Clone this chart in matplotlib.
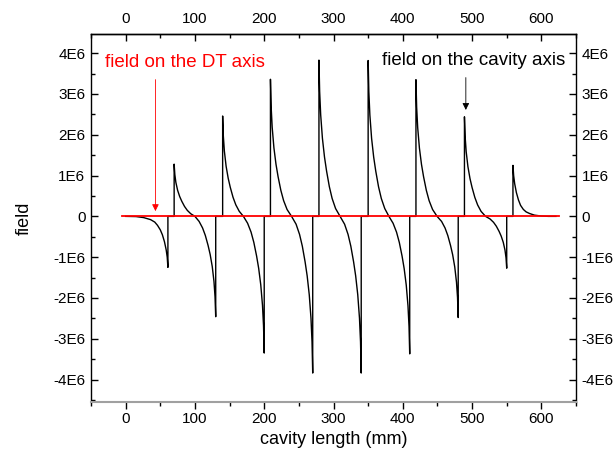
import matplotlib
matplotlib.use("Agg")
import matplotlib.pyplot as plt
from matplotlib.ticker import MultipleLocator, FuncFormatter

plt.rcParams['font.family'] = ['Liberation Sans', 'DejaVu Sans']

# ---- data (x in mm, field in units of 1E6) ----
start_x = [0, 15, 26, 36, 42, 46, 50, 53, 56, 58.5, 60, 61]
start_y = [0, -0.005, -0.03, -0.08, -0.14, -0.22, -0.33, -0.45, -0.62, -0.82, -1.0, -1.25]

cell1_x = [61, 70, 70, 71, 72.5, 75, 78, 81, 85, 89, 94, 100, 106, 111, 115, 119, 122, 125, 127.5, 129, 130]
cell1_y = [0, 0, 1.28, 1.024, 0.832, 0.64, 0.486, 0.371, 0.243, 0.147, 0.064, 0,
           -0.123, -0.283, -0.467, -0.713, -0.935, -1.23, -1.599, -1.968, -2.46]

cell2_x = [130, 140, 140, 141, 142.5, 145, 148, 151, 155, 159, 164, 170, 176, 181, 185, 189, 192, 195, 197.5, 199, 200]
cell2_y = [0, 0, 2.46, 1.968, 1.599, 1.23, 0.935, 0.713, 0.467, 0.283, 0.123, 0,
           -0.168, -0.385, -0.637, -0.972, -1.273, -1.675, -2.178, -2.68, -3.35]

cell3_x = [200, 209, 209, 210, 211.5, 214, 217, 220, 224, 228, 233, 239.5, 246, 251, 255, 259, 262, 265, 267.5, 269, 270]
cell3_y = [0, 0, 3.36, 2.688, 2.184, 1.68, 1.277, 0.974, 0.638, 0.386, 0.168, 0,
           -0.192, -0.442, -0.73, -1.114, -1.459, -1.92, -2.496, -3.072, -3.84]

cell4_x = [270, 279, 279, 280, 281.5, 284, 287, 290, 294, 298, 303, 309.5, 316, 321, 325, 329, 332, 335, 337.5, 339, 340]
cell4_y = [0, 0, 3.83, 3.064, 2.49, 1.915, 1.455, 1.111, 0.728, 0.44, 0.192, 0,
           -0.192, -0.442, -0.73, -1.114, -1.459, -1.92, -2.496, -3.072, -3.84]

cell5_x = [340, 350, 350, 351, 352.5, 355, 358, 361, 365, 369, 374, 380, 386, 391, 395, 399, 402, 405, 407.5, 409, 410]
cell5_y = [0, 0, 3.82, 3.056, 2.483, 1.91, 1.452, 1.108, 0.726, 0.439, 0.191, 0,
           -0.169, -0.388, -0.64, -0.977, -1.281, -1.685, -2.191, -2.696, -3.37]

cell6_x = [410, 419, 419, 420, 421.5, 424, 427, 430, 434, 438, 443, 449.5, 456, 461, 465, 469, 472, 475, 477.5, 479, 480]
cell6_y = [0, 0, 3.35, 2.68, 2.178, 1.675, 1.273, 0.972, 0.637, 0.385, 0.168, 0,
           -0.124, -0.285, -0.471, -0.719, -0.942, -1.24, -1.612, -1.984, -2.48]

cell7_x = [480, 489, 489, 490, 491.5, 494, 497, 500, 504, 508, 513, 519.5, 526, 531, 535, 539, 542, 545, 547.5, 549, 550]
cell7_y = [0, 0, 2.44, 1.952, 1.586, 1.22, 0.927, 0.708, 0.464, 0.281, 0.122, 0,
           -0.064, -0.146, -0.241, -0.368, -0.483, -0.635, -0.826, -1.016, -1.27]

end_x = [550, 559, 559, 560, 561.5, 564, 567, 570, 574, 578, 583, 590, 600, 610, 621]
end_y = [0, 0, 1.25, 1.0, 0.8, 0.58, 0.4, 0.27, 0.17, 0.11, 0.07, 0.03, 0.008, 0, 0]

dt_x = [-5, 625]
dt_y = [0, 0]

xticks = [0, 100, 200, 300, 400, 500, 600]
yticks = [-4, -3, -2, -1, 0, 1, 2, 3, 4]

segments_x = [start_x, cell1_x, cell2_x, cell3_x, cell4_x, cell5_x, cell6_x, cell7_x, end_x]
segments_y = [start_y, cell1_y, cell2_y, cell3_y, cell4_y, cell5_y, cell6_y, cell7_y, end_y]
cav_x = [v for s in segments_x for v in s]
cav_y = [v * 1e6 for s in segments_y for v in s]

# ---- figure ----
fig = plt.figure(figsize=(6.16, 4.58), dpi=100)
ax = fig.add_axes([91/616, 1-402/458, (576-91)/616, (402-34)/458])

ax.plot(cav_x, cav_y, color='black', lw=1.0, zorder=2)
ax.plot(dt_x, [v * 1e6 for v in dt_y], color='#ff0000', lw=1.3, zorder=3)

ax.set_xlim(-50, 650)
ax.set_ylim(-4.55e6, 4.47e6)

def fmt(v, pos):
    if abs(v) < 1:
        return '0'
    return '%dE6' % round(v / 1e6)

ax.set_yticks([t * 1e6 for t in yticks])
ax.yaxis.set_major_formatter(FuncFormatter(fmt))
ax.yaxis.set_minor_locator(MultipleLocator(0.5e6))
ax.set_xticks(xticks)
ax.xaxis.set_minor_locator(MultipleLocator(50))

ax.tick_params(axis='x', which='major', direction='out', length=5, width=1, labelsize=11, pad=2)
ax.tick_params(axis='x', which='minor', direction='out', length=3, width=1)
ax.tick_params(axis='y', which='major', direction='in', length=5, width=1, labelsize=11,
               left=True, right=True, labelleft=True, labelright=True, pad=4)
ax.tick_params(axis='y', which='minor', direction='in', length=3, width=1, left=True, right=True)

top = ax.secondary_xaxis('top')
top.set_xticks(xticks)
top.xaxis.set_minor_locator(MultipleLocator(50))
top.tick_params(axis='x', which='major', direction='in', length=5, width=1, labelsize=11, pad=6)
top.tick_params(axis='x', which='minor', direction='in', length=3, width=1)

for s in ['left', 'right', 'top']:
    ax.spines[s].set_linewidth(1.0)
top.spines['top'].set_linewidth(1.0)
ax.spines['bottom'].set_color('#a0a0a0')
ax.spines['bottom'].set_linewidth(1.5)

ax.set_xlabel('cavity length (mm)', fontsize=13, labelpad=4)
ax.set_ylabel('field', fontsize=13, labelpad=15)

ax.text(85, 3.76e6, 'field on the DT axis', color='#ff0000', fontsize=13.5, ha='center', va='center')
ax.annotate('', xy=(43, 0.06e6), xytext=(43, 3.42e6),
            arrowprops=dict(arrowstyle='-|>', color='#ff0000', lw=0.6, mutation_scale=10))
ax.text(502, 3.81e6, 'field on the cavity axis', color='black', fontsize=13.5, ha='center', va='center')
ax.annotate('', xy=(491, 2.54e6), xytext=(491, 3.47e6),
            arrowprops=dict(arrowstyle='-|>', color='black', lw=0.6, mutation_scale=10))

fig.savefig('out.png', dpi=100)
